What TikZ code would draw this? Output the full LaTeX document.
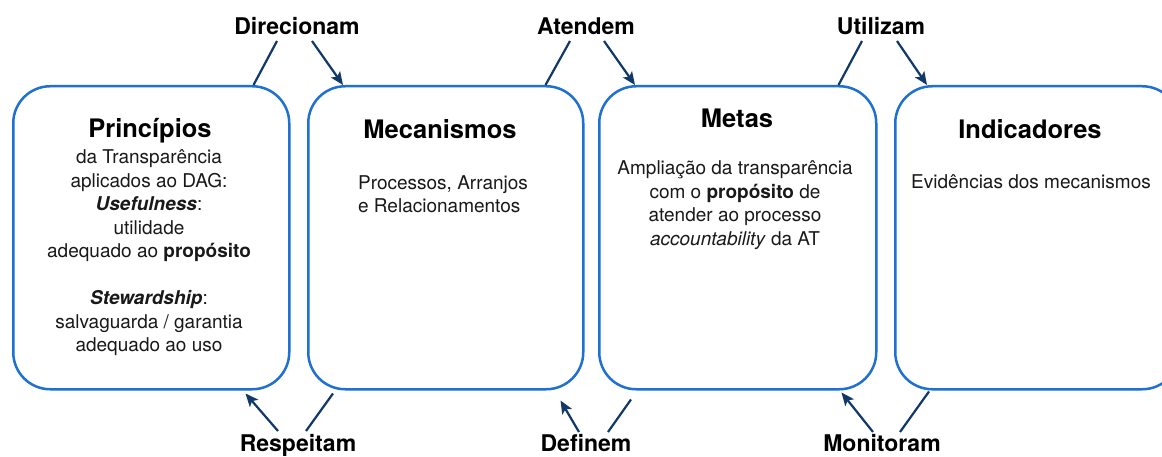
\documentclass[tikz,border=0pt]{standalone}
\usepackage{fontspec}
\setmainfont{TeX Gyre Heros}
\usetikzlibrary{arrows.meta,calc}
\definecolor{boxblue}{RGB}{30,112,210}
\definecolor{navy}{RGB}{16,56,104}
\definecolor{txt}{RGB}{25,25,25}
\begin{document}
\begin{tikzpicture}[x=1pt,y=-1pt,
 box/.style={draw=boxblue, line width=2.5pt, rounded corners=37pt, inner sep=0pt, anchor=north west},
 lbl/.style={font=\fontsize{23}{27}\selectfont\bfseries, inner sep=0pt, anchor=base, text=black},
 ttl/.style={font=\fontsize{25.5}{30}\selectfont\bfseries, inner sep=0pt, anchor=base, text=black},
 body/.style={font=\fontsize{19}{23.5}\selectfont, inner sep=0pt, align=center, text=txt},
 conn/.style={draw=navy, line width=2.2pt},
 arr/.style={conn, -{Stealth[length=13pt,width=11pt,inset=3pt]}}]
\clip (0,0) rectangle (1162,457);
\fill[white] (0,0) rectangle (1162,457);
% boxes
\node[box, minimum width=276pt, minimum height=303pt] (p) at (12,85) {};
\node[box, minimum width=275pt, minimum height=303pt] (m) at (307,85) {};
\node[box, minimum width=277pt, minimum height=303pt] (g) at (598,85) {};
\node[box, minimum width=284pt, minimum height=303pt] (i) at (894,85) {};
% texts
\node[ttl] (pt) at (150,138) {Princípios};
\node[body] (pb) at (149,253) {da Transparência\\aplicados ao DAG:\\\textbf{\textit{Usefulness}}:\\utilidade\\adequado ao \textbf{propósito}\\[23.5pt]\textbf{\textit{Stewardship}}:\\salvaguarda / garantia\\adequado ao uso};
\node[ttl] (mt) at (440,139) {Mecanismos};
\node[body, align=left] (mb) at (443,194) {Processos, Arranjos\\e Relacionamentos};
\node[ttl] (gt) at (737,128) {Metas};
\node[body] (gb) at (735,205) {Ampliação da transparência\\com o \textbf{propósito} de\\atender ao processo\\\textit{accountability} da AT};
\node[ttl] (it) at (1030,139) {Indicadores};
\node[body] (ib) at (1031,182) {Evidências dos mecanismos};
% labels
\node[lbl] (dir) at (297,35) {Direcionam};
\node[lbl] (ate) at (586,35) {Atendem};
\node[lbl] (uti) at (881,35) {Utilizam};
\node[lbl] (res) at (298,451) {Respeitam};
\node[lbl] (def) at (586,451) {Definem};
\node[lbl] (mon) at (882,451) {Monitoram};
% connectors top
\draw[conn] ($(dir.base)+(-20,6)$) -- ($(p.north east)+(-37,0)$);
\draw[arr]  ($(dir.base)+(15,6)$) -- ($(m.north west)+(36,0)$);
\draw[conn] ($(ate.base)+(-16,6)$) -- ($(m.north east)+(-39,0)$);
\draw[arr]  ($(ate.base)+(18,6)$) -- ($(g.north west)+(37,0)$);
\draw[conn] ($(uti.base)+(-19,6)$) -- ($(g.north east)+(-39,0)$);
\draw[arr]  ($(uti.base)+(16,6)$) -- ($(i.north west)+(33,0)$);
% connectors bottom
\draw[arr]  ($(res.base)+(-20,-20)$) -- ($(p.south east)+(-45,3)$);
\draw[conn] ($(res.base)+(8,-20)$) -- ($(m.south west)+(26,3)$);
\draw[arr]  ($(def.base)+(-7,-19)$) -- ($(m.south east)+(-24,10)$);
\draw[conn] ($(def.base)+(22,-19)$) -- ($(g.south west)+(33,9)$);
\draw[arr]  ($(mon.base)+(-9,-19)$) -- ($(g.south east)+(-36,2)$);
\draw[conn] ($(mon.base)+(18,-19)$) -- ($(i.south west)+(35,1)$);
\end{tikzpicture}
\end{document}
